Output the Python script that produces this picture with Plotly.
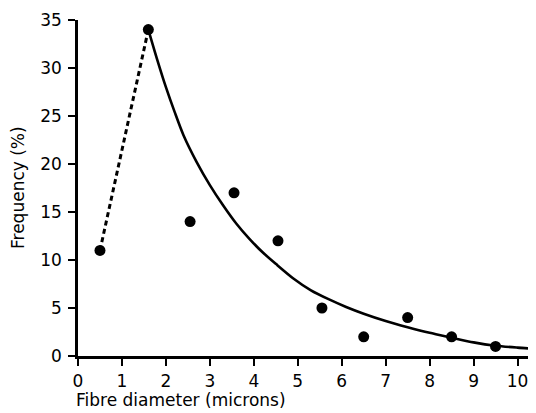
import plotly.graph_objects as go

# Measured points: fibre diameter (microns) vs frequency (%)
diam = [0.5, 1.6, 2.55, 3.55, 4.55, 5.55, 6.5, 7.5, 8.5, 9.5]
freq = [11, 34, 14, 17, 12, 5, 2, 4, 2, 1]

# Smooth fitted curve (from the peak onwards)
curve_x = [1.6, 1.8, 2.0, 2.2, 2.4, 2.7, 3.0, 3.3, 3.6, 3.9, 4.2, 4.5, 4.9, 5.3, 5.7, 6.1, 6.5, 7.0, 7.5, 8.0, 8.5, 9.0, 9.5, 10.0, 10.42]
curve_y = [34, 30.9, 28.0, 25.4, 23.0, 20.2, 17.8, 15.7, 13.8, 12.2, 10.8, 9.6, 8.08, 6.84, 5.92, 5.11, 4.41, 3.65, 3.0, 2.41, 1.91, 1.42, 1.07, 0.87, 0.74]

x_ticks = list(range(0, 11))
y_ticks = list(range(0, 36, 5))

# the page body adds an 8px offset; size the figure to fill the rest of the window
OFF = 8
W, H = 536 - OFF, 413 - OFF
ml, mr, mt, mb = 78 - OFF, 0, 20 - OFF, 57
pw = W - ml - mr
ph = H - mt - mb

font = "DejaVu Sans, sans-serif"

fig = go.Figure()
# dashed rising segment between the first two points
fig.add_trace(go.Scatter(x=diam[:2], y=freq[:2], mode="lines",
                         line=dict(color="black", width=3, dash="5px,3.5px"),
                         hoverinfo="skip", cliponaxis=False))
# solid fitted decay curve
fig.add_trace(go.Scatter(x=curve_x, y=curve_y, mode="lines",
                         line=dict(color="black", width=2.6, shape="spline", smoothing=0.8),
                         hoverinfo="skip", cliponaxis=False))
# data points
fig.add_trace(go.Scatter(x=diam, y=freq, mode="markers",
                         marker=dict(color="black", size=11),
                         cliponaxis=False))

fig.update_layout(
    width=W, height=H,
    margin=dict(l=ml, r=mr, t=mt, b=mb, autoexpand=False),
    paper_bgcolor="white", plot_bgcolor="white",
    showlegend=False,
    font=dict(family=font, color="black", size=17),
    xaxis=dict(range=[0, 10.42], tickmode="array", tickvals=x_ticks,
               ticktext=[str(v) for v in x_ticks],
               showgrid=False, zeroline=False, showline=True,
               linecolor="black", linewidth=2.5, automargin=False,
               ticks="outside", ticklen=7, tickwidth=2, tickcolor="black",
               ticklabelstandoff=1,
               tickfont=dict(family=font, size=17, color="black")),
    yaxis=dict(range=[0, 35], tickmode="array", tickvals=y_ticks,
               ticktext=[str(v) for v in y_ticks],
               showgrid=False, zeroline=False, showline=True,
               linecolor="black", linewidth=2.5, automargin=False,
               ticks="outside", ticklen=7, tickwidth=2, tickcolor="black",
               ticklabelstandoff=3,
               tickfont=dict(family=font, size=17, color="black")),
    annotations=[
        dict(text="Fibre diameter (microns)", xref="paper", yref="paper",
             x=(74 - OFF - ml) / pw, y=-(400 - OFF - (H - mb)) / ph,
             xanchor="left", yanchor="middle", showarrow=False,
             font=dict(family=font, size=17, color="black")),
        dict(text="Frequency (%)", xref="paper", yref="paper",
             x=(18 - OFF - ml) / pw, y=0.5, textangle=-90,
             xanchor="center", yanchor="middle", showarrow=False,
             font=dict(family=font, size=17, color="black")),
    ],
)

fig.write_html("out.html")
